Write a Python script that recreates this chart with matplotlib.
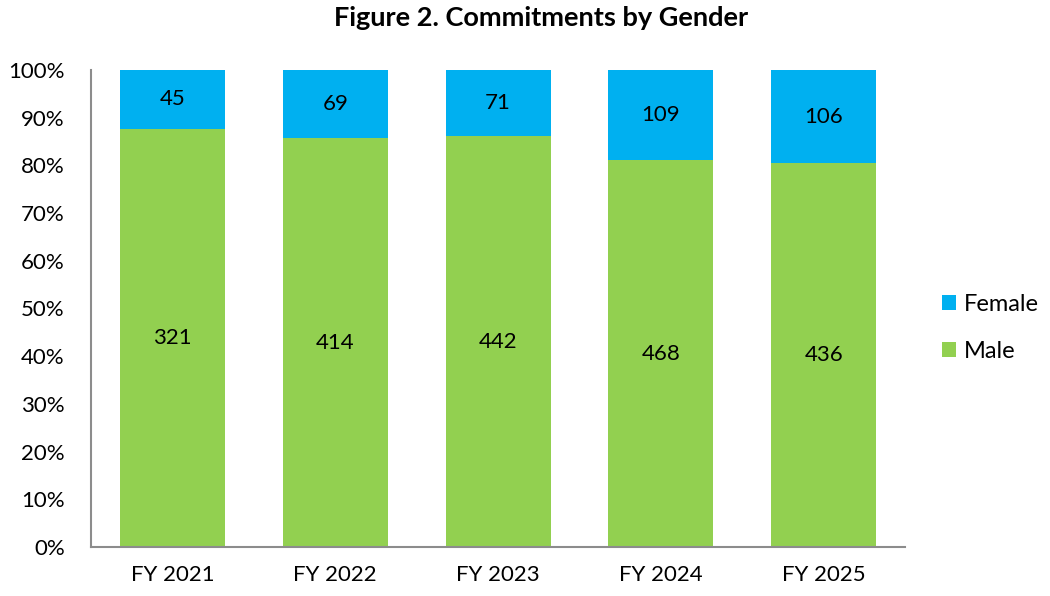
import numpy as np
import matplotlib
matplotlib.use('Agg')
import matplotlib.pyplot as plt

plt.rcParams['font.family'] = ['Lato', 'DejaVu Sans']

years = ['FY 2021', 'FY 2022', 'FY 2023', 'FY 2024', 'FY 2025']
male = [321, 414, 442, 468, 436]
female = [45, 69, 71, 109, 106]

male = np.array(male)
female = np.array(female)
total = male + female
male_pct = male / total * 100
female_pct = female / total * 100

fig = plt.figure(figsize=(10.5, 5.96), dpi=100)
ax = fig.add_axes([0.0867, 0.0822, 0.7753, 0.8004])

x = np.arange(len(years))
w = 0.645
b1 = ax.bar(x, male_pct, w, color='#92D050', label='Male')
b2 = ax.bar(x, female_pct, w, bottom=male_pct, color='#00B0F0', label='Female')

for i in range(len(years)):
    ax.text(x[i], male_pct[i] / 2, str(male[i]), ha='center', va='center', fontsize=16)
    ax.text(x[i], male_pct[i] + female_pct[i] / 2, str(female[i]), ha='center', va='center', fontsize=16)

ax.set_xlim(-0.5, len(years) - 0.5)
ax.set_ylim(0, 100)
ax.set_yticks(np.arange(0, 101, 10))
ax.set_yticklabels([f'{v}%' for v in range(0, 101, 10)])
ax.set_xticks(x)
ax.set_xticklabels(years)
ax.tick_params(length=0, labelsize=16)
ax.tick_params(axis='y', pad=19)
ax.tick_params(axis='x', pad=13)
for s in ['top', 'right']:
    ax.spines[s].set_visible(False)
for s in ['left', 'bottom']:
    ax.spines[s].set_color('#8c8c8c')
    ax.spines[s].set_linewidth(1.5)

fig.suptitle('Figure 2. Commitments by Gender', fontsize=19.5, fontweight='bold', x=0.515, y=0.99)

handles = [b2, b1]
fig.legend(handles, ['Female', 'Male'], loc='center left', bbox_to_anchor=(0.897, 0.45),
           frameon=False, fontsize=17, handlelength=0.6, handleheight=0.6,
           handletextpad=0.35, labelspacing=1.1, borderpad=0, borderaxespad=0)

fig.savefig('out.png', dpi=100)
